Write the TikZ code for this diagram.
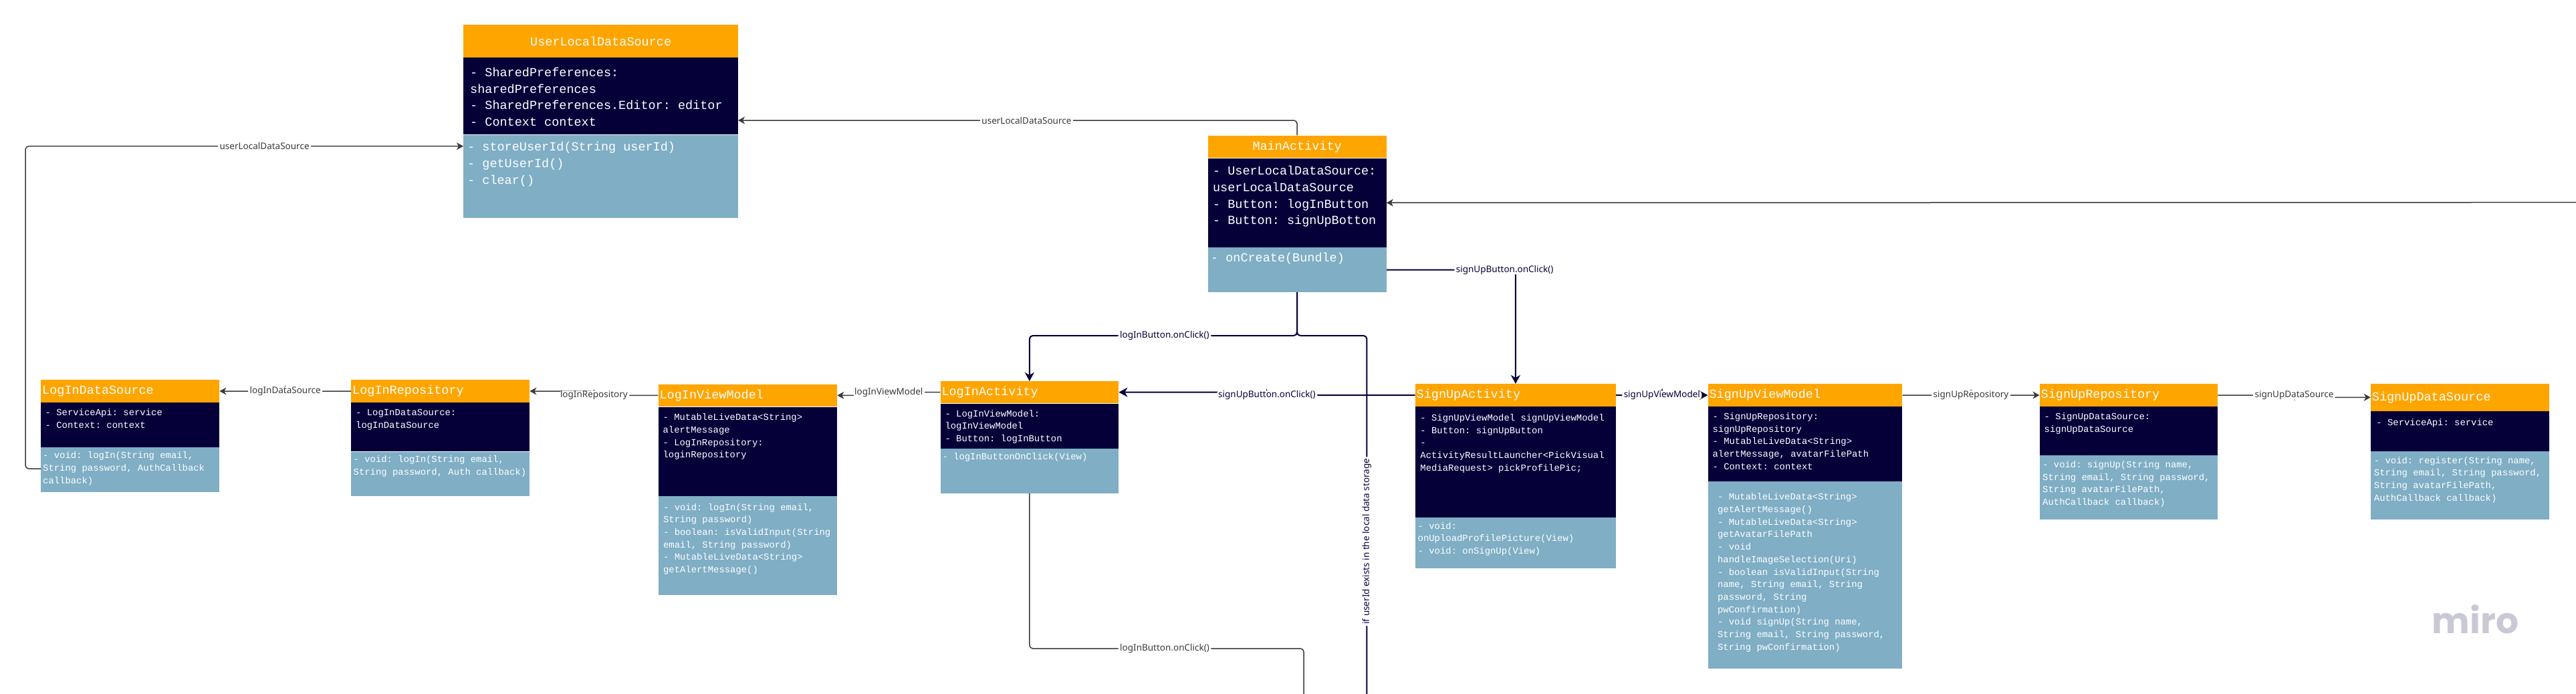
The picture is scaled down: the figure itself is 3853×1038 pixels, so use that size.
\documentclass[tikz,border=0pt]{standalone}
\usepackage{fontspec}
\setmonofont{Liberation Mono}
\setsansfont{Noto Sans}
\newfontfamily\logofont{Poppins}
\usetikzlibrary{arrows.meta, calc, positioning}

\definecolor{clsorange}{HTML}{FFA500}
\definecolor{clsnavy}{HTML}{050038}
\definecolor{clsblue}{HTML}{7FAEC5}
\definecolor{linegray}{HTML}{3A3A3A}
\definecolor{logogray}{HTML}{C9C9D6}

\newcommand{\bigmono}{\ttfamily\fontsize{18.5}{24.7}\selectfont}
\newcommand{\smallmono}{\ttfamily\fontsize{13.9}{18.7}\selectfont}

% height, left pad, top pad, text; \W is the width of the class
\newcommand{\cellbox}[4]{\vbox to #1 pt{\hsize = \W pt \parindent = 0 pt \raggedright \leftskip = #2 pt \vskip #3 pt \strut #4\par\vfil}}
\newcommand{\lefttitle}[1]{\makebox[\W pt][l]{\hspace{2 pt}#1}}

\tikzset{
	head/.style = {fill = clsorange, text = white, font = \bigmono, anchor = north west, inner sep = 0 pt, minimum width = \W pt},
	attr/.style = {fill = clsnavy, text = white, inner sep = 0 pt},
	meth/.style = {fill = clsblue, text = white, inner sep = 0 pt},
	tag/.style = {fill = white, font = \sffamily\fontsize{13.5}{15}\selectfont, inner xsep = 2.5 pt, inner ysep = 0 pt},
	thinwire/.style = {color = linegray, line width = 1.5 pt, rounded corners = 5 pt, > = {Stealth[length=10pt, width=11pt, inset=3pt]}},
	navywire/.style = {color = clsnavy, line width = 2 pt, rounded corners = 5 pt, > = {Stealth[length=13pt, width=14pt, inset=4pt]}},
	jog/.style = {to path = {-| node [tag] {#1} ($(\tikztostart)!0.5!(\tikztotarget)$) |- (\tikztotarget)}}
}

\begin{document}
\begin{tikzpicture}[x = 1 pt, y = -1 pt]

	\useasboundingbox (0, 0) rectangle (3853, 1038);

	% UserLocalDataSource

	\def\W{411}
	\node [head, minimum height = 48.5 pt] (user-head) at (693, 37) {UserLocalDataSource};
	\node [attr, font = \bigmono, below = 0 pt of user-head] (user-attr) {\cellbox{115.2}{10}{11}{- SharedPreferences:\\sharedPreferences\\- SharedPreferences.Editor: editor\\- Context context}};
	\node [meth, font = \bigmono, below = 0 pt of user-attr] (user-meth) {\cellbox{124}{6}{7}{- storeUserId(String userId)\\- getUserId()\\- clear()}};

	% MainActivity

	\def\W{267}
	\node [head, minimum height = 33.7 pt] (main-head) at (1806.4, 202.3) {MainActivity};
	\node [attr, font = \bigmono, below = 0 pt of main-head] (main-attr) {\cellbox{133.3}{7.5}{8}{- UserLocalDataSource:\\userLocalDataSource\\- Button: logInButton\\- Button: signUpBotton}};
	\node [meth, font = \bigmono, below = 0 pt of main-attr] (main-meth) {\cellbox{66.7}{4.5}{4}{- onCreate(Bundle)}};

	% LogIn classes

	\def\W{267}
	\node [head, minimum height = 33.7 pt] (logds-head) at (61, 568) {\lefttitle{LogInDataSource}};
	\node [attr, font = \smallmono, below = 0 pt of logds-head] (logds-attr) {\cellbox{66.6}{6.5}{6}{- ServiceApi: service\\- Context: context}};
	\node [meth, font = \smallmono, below = 0 pt of logds-attr] (logds-meth) {\cellbox{66.4}{3}{3.5}{- void: logIn(String email,\\String password, AuthCallback\\callback)}};

	\node [head, minimum height = 33.7 pt] (logrepo-head) at (525, 568) {\lefttitle{LogInRepository}};
	\node [attr, font = \smallmono, below = 0 pt of logrepo-head] (logrepo-attr) {\cellbox{73}{7}{6}{- LogInDataSource:\\logInDataSource}};
	\node [meth, font = \smallmono, below = 0 pt of logrepo-attr] (logrepo-meth) {\cellbox{66.3}{3.5}{3}{- void: logIn(String email,\\String password, Auth callback)}};

	\def\W{267.5}
	\node [head, minimum height = 33.7 pt] (logvm-head) at (984.4, 574.3) {\lefttitle{LogInViewModel}};
	\node [attr, font = \smallmono, below = 0 pt of logvm-head] (logvm-attr) {\cellbox{133}{7}{7}{- MutableLiveData<String>\\alertMessage\\- LogInRepository:\\loginRepository}};
	\node [meth, font = \smallmono, below = 0 pt of logvm-attr] (logvm-meth) {\cellbox{147.7}{7.5}{8}{- void: logIn(String email,\\String password)\\- boolean: isValidInput(String\\email, String password)\\- MutableLiveData<String>\\getAlertMessage()}};

	\def\W{266.7}
	\node [head, minimum height = 33 pt] (login-head) at (1406.3, 570) {\lefttitle{LogInActivity}};
	\node [attr, font = \smallmono, below = 0 pt of login-head] (login-attr) {\cellbox{67}{7}{6.5}{- LogInViewModel:\\logInViewModel\\- Button: logInButton}};
	\node [meth, font = \smallmono, below = 0 pt of login-attr] (login-meth) {\cellbox{66.7}{3}{3}{- logInButtonOnClick(View)}};

	% SignUp classes

	\def\W{300.3}
	\node [head, minimum height = 33.7 pt] (signup-head) at (2116.5, 574) {\lefttitle{SignUpActivity}};
	\node [attr, font = \smallmono, below = 0 pt of signup-head] (signup-attr) {\cellbox{165.3}{7.7}{8}{- SignUpViewModel signUpViewModel\\- Button: signUpButton\\-\\ActivityResultLauncher<PickVisual\\MediaRequest> pickProfilePic;}};
	\node [meth, font = \smallmono, below = 0 pt of signup-attr] (signup-meth) {\cellbox{76.3}{4}{4}{- void:\\onUploadProfilePicture(View)\\- void: onSignUp(View)}};

	\def\W{290.7}
	\node [head, minimum height = 33.7 pt] (signvm-head) at (2554.4, 574) {\lefttitle{SignUpViewModel}};
	\node [attr, font = \smallmono, below = 0 pt of signvm-head] (signvm-attr) {\cellbox{111.6}{7}{6}{- SignUpRepository:\\signUpRepository\\- MutableLiveData<String>\\alertMessage, avatarFilePath\\- Context: context}};
	\node [meth, font = \smallmono, below = 0 pt of signvm-attr] (signvm-meth) {\cellbox{280}{14.5}{14.5}{- MutableLiveData<String>\\getAlertMessage()\\- MutableLiveData<String>\\getAvatarFilePath\\- void\\handleImageSelection(Uri)\\- boolean isValidInput(String\\name, String email, String\\password, String\\pwConfirmation)\\- void signUp(String name,\\String email, String password,\\String pwConfirmation)}};

	\def\W{266.5}
	\node [head, minimum height = 33.7 pt] (signrepo-head) at (3050.5, 574) {\lefttitle{SignUpRepository}};
	\node [attr, font = \smallmono, below = 0 pt of signrepo-head] (signrepo-attr) {\cellbox{72.6}{7}{6}{- SignUpDataSource:\\signUpDataSource}};
	\node [meth, font = \smallmono, below = 0 pt of signrepo-attr] (signrepo-meth) {\cellbox{96}{4.5}{5}{- void: signUp(String name,\\String email, String password,\\String avatarFilePath,\\AuthCallback callback)}};

	\def\W{267}
	\node [head, minimum height = 40.3 pt] (signds-head) at (3545.7, 574) {\lefttitle{SignUpDataSource}};
	\node [attr, font = \smallmono, below = 0 pt of signds-head] (signds-attr) {\cellbox{59.7}{8.5}{8.5}{- ServiceApi: service}};
	\node [meth, font = \smallmono, below = 0 pt of signds-attr] (signds-meth) {\cellbox{102.3}{5}{5}{- void: register(String name,\\String email, String password,\\String avatarFilePath,\\AuthCallback callback)}};

	% Free ends and turning points

	\coordinate (user-right) at (1104, 180);
	\coordinate (user-left) at (693, 218.7);
	\coordinate (logds-out) at (61, 701);
	\coordinate (edge-right) at (3853, 302.7);
	\coordinate (main-fork) at (1940, 502);
	\coordinate (main-exit) at (2044.4, 1038);
	\coordinate (login-turn) at (1950, 970);
	\coordinate (login-exit) at (1950, 1038);

	% Connectors

	\draw [thinwire, ->] (main-head.north) |- node [tag, pos = 0.742] {userLocalDataSource} (user-right);
	\draw [thinwire, ->] (logds-out) -| (38, 400) |- node [tag, pos = 0.773] {userLocalDataSource} (user-left);
	\draw [thinwire, ->] (edge-right) -- (main-attr.east);

	\draw [navywire, ->] (main-meth.east) -| node [tag, pos = 0.458] {signUpButton.onClick()} (signup-head.north);
	\draw [navywire, ->] (main-meth.south) -- (main-fork) -| node [tag, pos = 0.2475] {logInButton.onClick()} (login-head.north);
	\draw [navywire] (main-meth.south) -- (main-fork) -| node [tag, pos = 0.787, rotate = 90] {if userId exists in the local data storage} (main-exit);

	\draw [thinwire, ->] (logrepo-head.west) to [jog = logInDataSource] (logds-head.east);
	\draw [thinwire, ->] (logvm-head.west) to [jog = logInRepository] (logrepo-head.east);
	\draw [thinwire, ->] (login-head.west) to [jog = logInViewModel] (logvm-head.east);
	\draw [navywire, ->] (signup-head.west) to [jog = signUpButton.onClick()] (login-head.east);
	\draw [navywire, ->] (signup-head.east) to [jog = signUpViewModel] (signvm-head.west);
	\draw [thinwire, ->] (signvm-head.east) to [jog = signUpRepository] (signrepo-head.west);
	\draw [thinwire, ->] (signrepo-head.east) to [jog = signUpDataSource] (signds-head.west);

	\draw [thinwire] (login-meth.south) |- node [tag, pos = 0.7465] {logInButton.onClick()} (login-turn) -- (login-exit);

	% Logo

	\node [anchor = base, text = logogray, font = \logofont\bfseries\fontsize{53.5}{55}\selectfont] (miro-logo) at (3702.5, 947) {miro};

\end{tikzpicture}
\end{document}
